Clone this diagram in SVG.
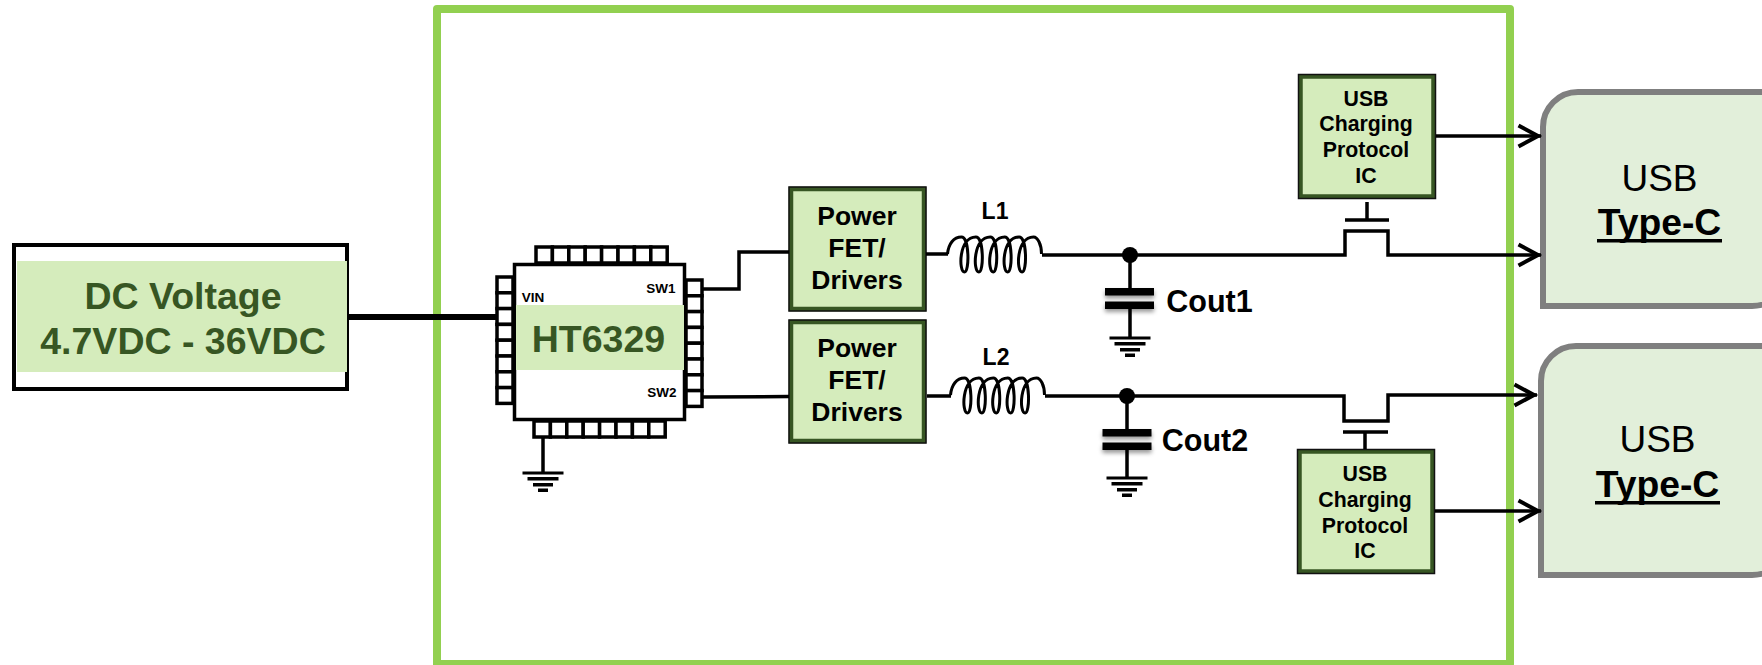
<svg xmlns="http://www.w3.org/2000/svg" width="1762" height="665" viewBox="0 0 1762 665">
<style>
text{font-family:"Liberation Sans",Arial,sans-serif;text-anchor:middle;fill:#000}
.dk{font-weight:bold;font-size:37.5px;fill:#375623}
.sw{font-weight:bold;font-size:13.5px}
.pw{font-weight:bold;font-size:26.500px}
.lb{font-weight:bold;font-size:23px}
.co{font-weight:bold;font-size:30.500px}
.us{font-weight:bold;font-size:21.300px}
.u1{font-size:37px}
.u2{font-weight:bold;font-size:37.300px}
.w{fill:none;stroke:#000;stroke-width:3.5}
.thick{fill:none;stroke:#000;stroke-width:6}
.pin{fill:#fff;stroke:#000;stroke-width:3.5}
.box{fill:#d5ecbc;stroke:#375623;stroke-width:4.5}
.edge{fill:none;stroke:#111;stroke-width:1.5}
.panel{fill:#e2efda;stroke:#7f7f7f;stroke-width:6}
.band{fill:#d5ecbc}
.plate{fill:#000;filter:url(#sh)}
</style>
<defs>
<filter id="sh" x="-20%" y="-60%" width="140%" height="260%"><feDropShadow dx="0" dy="3" stdDeviation="2" flood-color="#000" flood-opacity="0.4"/></filter>
<marker id="arr" markerUnits="userSpaceOnUse" markerWidth="30" markerHeight="30" refX="24" refY="13" orient="auto" overflow="visible"><path d="M1.5,2.5L21,13L1.5,23.5" fill="none" stroke="#000" stroke-width="4"/></marker>
<path id="coil" class="w" style="stroke-width:3" d="M0,0C1,-10 6,-17 14,-17c8,0 8,35 3,35c-6,0 -6,-35 11.4,-35c8,0 8,35 3,35c-6,0 -6,-35 11.4,-35c8,0 8,35 3,35c-6,0 -6,-35 11.4,-35c8,0 8,35 3,35c-6,0 -6,-35 11.4,-35c8,0 8,35 3,35c-6,0 -6,-35 11.4,-35c4,0 8,7 8,17"/>
<g id="gnd"><rect x="-20.5" y="-1.5" width="41" height="3"/><rect x="-15.5" y="4" width="31" height="3.5"/><rect x="-10" y="10" width="20" height="3.5"/><rect x="-5" y="15.5" width="10" height="3.5"/></g>
<g id="ph" class="pin"><rect width="16.4" height="16"/><rect x="16.4" width="16.4" height="16"/><rect x="32.8" width="16.4" height="16"/><rect x="49.2" width="16.4" height="16"/><rect x="65.6" width="16.4" height="16"/><rect x="82" width="16.4" height="16"/><rect x="98.4" width="16.4" height="16"/><rect x="114.8" width="16.4" height="16"/></g>
<g id="pv" class="pin"><rect width="16" height="15.8"/><rect y="15.8" width="16" height="15.8"/><rect y="31.6" width="16" height="15.8"/><rect y="47.4" width="16" height="15.8"/><rect y="63.2" width="16" height="15.8"/><rect y="79" width="16" height="15.8"/><rect y="94.8" width="16" height="15.8"/><rect y="110.6" width="16" height="15.8"/></g>
</defs>
<rect width="1762" height="665" fill="#fff"/>
<rect id="frame" x="437" y="9" width="1073" height="655" fill="none" stroke="#92d050" stroke-width="8" stroke-linejoin="round"/>

<g id="dc-source">
<rect x="14" y="245" width="333" height="144" fill="#fff" stroke="#000" stroke-width="4"/>
<rect class="band" x="17" y="261" width="330" height="111"/>
<text class="dk" x="183" y="309">DC Voltage</text>
<text class="dk" x="183" y="354">4.7VDC - 36VDC</text>
</g>

<g id="ht6329">
<use href="#ph" x="536" y="247"/><use href="#ph" x="534" y="421"/><use href="#pv" x="497" y="277"/><use href="#pv" x="686" y="280"/>
<rect x="514.5" y="264.5" width="170" height="155" fill="#fff" stroke="#000" stroke-width="3.5"/>
<rect class="band" x="516" y="305" width="168" height="65"/>
<text class="dk" x="598.500" y="352">HT6329</text>
<text class="sw" x="533" y="302">VIN</text>
<text class="sw" x="661" y="293">SW1</text>
<text class="sw" x="662" y="397">SW2</text>
</g>

<g id="driver1"><rect class="box" x="791" y="189" width="133" height="120"/><rect class="edge" x="789" y="187" width="137" height="124"/>
<text class="pw" x="857" y="225">Power</text><text class="pw" x="857" y="257">FET/</text><text class="pw" x="857" y="289">Drivers</text></g>
<g id="driver2"><rect class="box" x="791" y="322" width="133" height="119"/><rect class="edge" x="789" y="320" width="137" height="123"/>
<text class="pw" x="857" y="357">Power</text><text class="pw" x="857" y="389">FET/</text><text class="pw" x="857" y="421">Drivers</text></g>

<g id="usbic1"><rect class="box" x="1300.5" y="76.5" width="133" height="120"/><rect class="edge" x="1298.5" y="74.5" width="137" height="124"/>
<text class="us" x="1366" y="106">USB</text><text class="us" x="1366" y="131">Charging</text><text class="us" x="1366" y="157">Protocol</text><text class="us" x="1366" y="183">IC</text></g>
<g id="usbic2"><rect class="box" x="1299.5" y="451.5" width="133" height="120"/><rect class="edge" x="1297.5" y="449.5" width="137" height="124"/>
<text class="us" x="1365" y="481">USB</text><text class="us" x="1365" y="507">Charging</text><text class="us" x="1365" y="533">Protocol</text><text class="us" x="1365" y="558">IC</text></g>

<g id="usb1"><path class="panel" d="M1543,306V127A35,35 0 0 1 1578,92H1790V268A38,38 0 0 1 1752,306Z"/>
<text class="u1" x="1659.500" y="191">USB</text><text class="u2" x="1659.500" y="235">Type-C</text><rect x="1597" y="239" width="125" height="3.5"/></g>
<g id="usb2"><path class="panel" d="M1541,575V381A35,35 0 0 1 1576,346H1790V537A38,38 0 0 1 1752,575Z"/>
<text class="u1" x="1657.500" y="452">USB</text><text class="u2" x="1657.500" y="497">Type-C</text><rect x="1595" y="501" width="125" height="3.5"/></g>

<g id="l1"><use href="#coil" x="947.5" y="254"/><text class="lb" x="995" y="219">L1</text></g>
<g id="l2"><use href="#coil" x="950.5" y="395"/><text class="lb" x="996" y="365">L2</text></g>

<g id="cout1"><rect class="plate" x="1105" y="288" width="49" height="7.5"/><rect class="plate" x="1105" y="301.5" width="49" height="7.5"/><text class="co" x="1209.500" y="312">Cout1</text></g>
<g id="cout2"><rect class="plate" x="1102.5" y="429" width="49" height="7.5"/><rect class="plate" x="1102.5" y="442.5" width="49" height="7.5"/><text class="co" x="1205" y="451">Cout2</text></g>

<g id="connectors">
<path class="thick" d="M349,317H497"/>
<path class="w" d="M543,438V473"/>
<use href="#gnd" x="543" y="473"/>
<path class="w" d="M703,289H739V252H789"/>
<path class="w" d="M703,397L789,396.500"/>
<path class="w" d="M926,254H948M1042,255H1345V231H1388V255H1541" marker-end="url(#arr)"/>
<path class="w" d="M927,396H951M1045,396H1344V421H1388V395H1537" marker-end="url(#arr)"/>
<circle cx="1130" cy="255" r="8"/><circle cx="1127" cy="396" r="8"/>
<path class="w" d="M1130,255V288M1130,309V337"/>
<use href="#gnd" x="1130" y="338"/>
<path class="w" d="M1127,396V429M1127,450V478"/>
<use href="#gnd" x="1127" y="478"/>
<path class="w" d="M1345,220H1389M1367,202V220"/>
<path class="w" d="M1343,432H1388M1365,432V449"/>
<path class="w" d="M1436,136H1541" marker-end="url(#arr)"/>
<path class="w" d="M1435,511H1541" marker-end="url(#arr)"/>
</g>
</svg>
